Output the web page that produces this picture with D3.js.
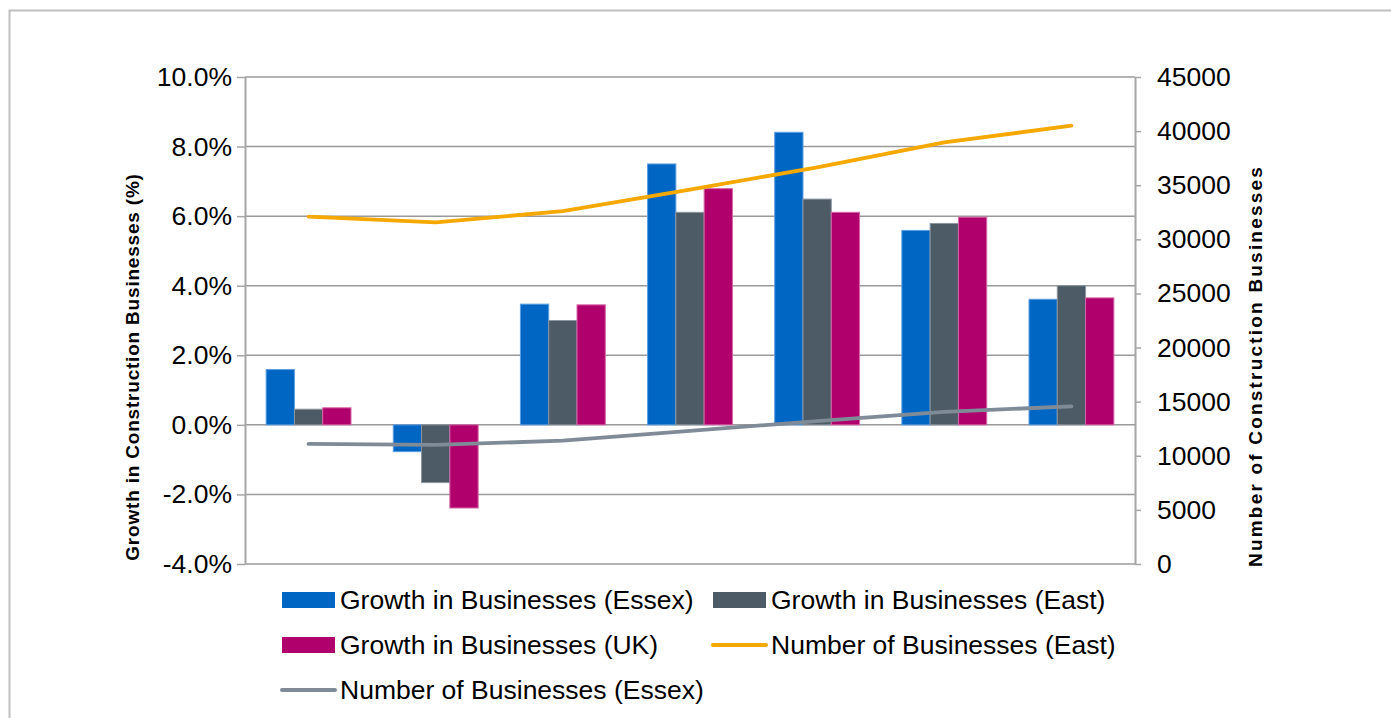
<!DOCTYPE html>
<html>
<head>
<meta charset="utf-8">
<script src="https://cdn.jsdelivr.net/npm/d3@7"></script>
<style>
  html, body { margin: 0; padding: 0; background: #ffffff; }
  svg { display: block; }
  text { font-family: "Liberation Sans", Arial, sans-serif; fill: #000; }
</style>
</head>
<body>
<svg id="chart" width="1391" height="718"></svg>
<script>
// Periods (the category axis carries no printed labels)
const periods = ["P1", "P2", "P3", "P4", "P5", "P6", "P7"];

// Annual growth in construction businesses (%)
const growthEssex = [1.59, -0.77, 3.47, 7.50, 8.41, 5.59, 3.61];
const growthEast  = [0.45, -1.66, 3.00, 6.11, 6.49, 5.79, 4.00];
const growthUK    = [0.49, -2.39, 3.45, 6.79, 6.11, 5.97, 3.65];

// Number of construction businesses
const countEast  = [32100, 31570, 32600, 34600, 36650, 38950, 40500];
const countEssex = [11100, 11000, 11400, 12300, 13200, 14050, 14570];

// Axis tick values
const leftTicks  = [-4, -2, 0, 2, 4, 6, 8, 10];
const rightTicks = [0, 5000, 10000, 15000, 20000, 25000, 30000, 35000, 40000, 45000];

const barSeries = [
  { name: "Growth in Businesses (Essex)", values: growthEssex, fill: "#0066c4", stroke: "#5c9ee0" },
  { name: "Growth in Businesses (East)",  values: growthEast,  fill: "#4d5b66", stroke: "#8b969f" },
  { name: "Growth in Businesses (UK)",    values: growthUK,    fill: "#b0006c", stroke: "#d766a8" }
];
const lineSeries = [
  { name: "Number of Businesses (East)",  values: countEast,  color: "#f5a800" },
  { name: "Number of Businesses (Essex)", values: countEssex, color: "#7f8c98" }
];

const svg = d3.select("#chart");

// outer frame
svg.append("rect")
  .attr("x", 9.5).attr("y", 10.5)
  .attr("width", 1400).attr("height", 720)
  .attr("fill", "none").attr("stroke", "#bfbfbf").attr("stroke-width", 2);

const plot = { left: 245, right: 1135, top: 77, bottom: 564 };

const x = d3.scaleBand().domain(periods).range([plot.left, plot.right]).padding(0);
const yL = d3.scaleLinear().domain([-4, 10]).range([plot.bottom, plot.top]);
const yR = d3.scaleLinear().domain([0, 45000]).range([plot.bottom, plot.top]);

const bw = x.bandwidth() * 0.2225;

// horizontal gridlines
svg.append("g").selectAll("line").data(leftTicks).join("line")
  .attr("x1", plot.left).attr("x2", plot.right)
  .attr("y1", d => yL(d)).attr("y2", d => yL(d))
  .attr("stroke", "#9a9a9a").attr("stroke-width", 1.5);

// left axis (plain hyphen for negatives)
const pct = d => d3.format(".1f")(d).replace("\u2212", "-") + "%";
const leftAxis = d3.axisLeft(yL).tickValues(leftTicks)
  .tickFormat(pct)
  .tickSize(8).tickSizeOuter(0).tickPadding(5);
const gL = svg.append("g").attr("transform", `translate(${plot.left},0)`).call(leftAxis);
gL.select(".domain").attr("stroke", "#a6a6a6").attr("stroke-width", 2);
gL.selectAll(".tick line").attr("stroke", "#a6a6a6").attr("stroke-width", 1.5);
gL.selectAll(".tick text").attr("font-size", 26.5).attr("font-family", "Liberation Sans, Arial, sans-serif").attr("fill", "#000");

// right axis
const rightAxis = d3.axisRight(yR).tickValues(rightTicks)
  .tickFormat(d3.format("d"))
  .tickSize(6).tickSizeOuter(0).tickPadding(16);
const gR = svg.append("g").attr("transform", `translate(${plot.right},0)`).call(rightAxis);
gR.select(".domain").attr("stroke", "#a6a6a6").attr("stroke-width", 2);
gR.selectAll(".tick line").attr("stroke", "#a6a6a6").attr("stroke-width", 1.5);
gR.selectAll(".tick text").attr("font-size", 26.5).attr("font-family", "Liberation Sans, Arial, sans-serif").attr("fill", "#000");

// bars
barSeries.forEach((s, si) => {
  svg.append("g").selectAll("rect").data(s.values).join("rect")
    .attr("x", (d, i) => x(periods[i]) + x.bandwidth() / 2 - 1.5 * bw + si * bw)
    .attr("width", bw)
    .attr("y", d => yL(Math.max(0, d)))
    .attr("height", d => Math.abs(yL(d) - yL(0)))
    .attr("fill", s.fill)
    .attr("stroke", s.stroke).attr("stroke-width", 1);
});

// lines on the secondary axis
const line = d3.line()
  .x((d, i) => x(periods[i]) + x.bandwidth() / 2)
  .y(d => yR(d));
lineSeries.forEach(s => {
  svg.append("path").datum(s.values)
    .attr("d", line)
    .attr("fill", "none")
    .attr("stroke", s.color).attr("stroke-width", 3.8)
    .attr("stroke-linecap", "round").attr("stroke-linejoin", "round");
});

// axis titles
svg.append("text")
  .attr("transform", `translate(139,367) rotate(-90)`)
  .attr("text-anchor", "middle")
  .attr("font-size", 19).attr("font-weight", "bold")
  .attr("letter-spacing", 0.8)
  .text("Growth in Construction Businesses (%)");

svg.append("text")
  .attr("transform", `translate(1262,366) rotate(-90)`)
  .attr("text-anchor", "middle")
  .attr("font-size", 19).attr("font-weight", "bold")
  .attr("letter-spacing", 2.2)
  .text("Number of Construction Businesses");

// legend
const legendItems = [
  { s: barSeries[0], type: "bar", x: 282, y: 600 },
  { s: barSeries[1], type: "bar", x: 713, y: 600 },
  { s: barSeries[2], type: "bar", x: 282, y: 645 },
  { s: lineSeries[0], type: "line", x: 713, y: 645 },
  { s: lineSeries[1], type: "line", x: 282, y: 690 }
];
const lg = svg.append("g");
legendItems.forEach(it => {
  if (it.type === "bar") {
    lg.append("rect").attr("x", it.x).attr("y", it.y - 8).attr("width", 53).attr("height", 16)
      .attr("fill", it.s.fill);
  } else {
    lg.append("line").attr("x1", it.x).attr("x2", it.x + 53)
      .attr("y1", it.y).attr("y2", it.y)
      .attr("stroke", it.s.color).attr("stroke-width", 4).attr("stroke-linecap", "round");
  }
  lg.append("text").attr("x", it.x + 58).attr("y", it.y)
    .attr("dy", "0.35em").attr("font-size", 26.5)
    .text(it.s.name);
});
</script>
</body>
</html>
